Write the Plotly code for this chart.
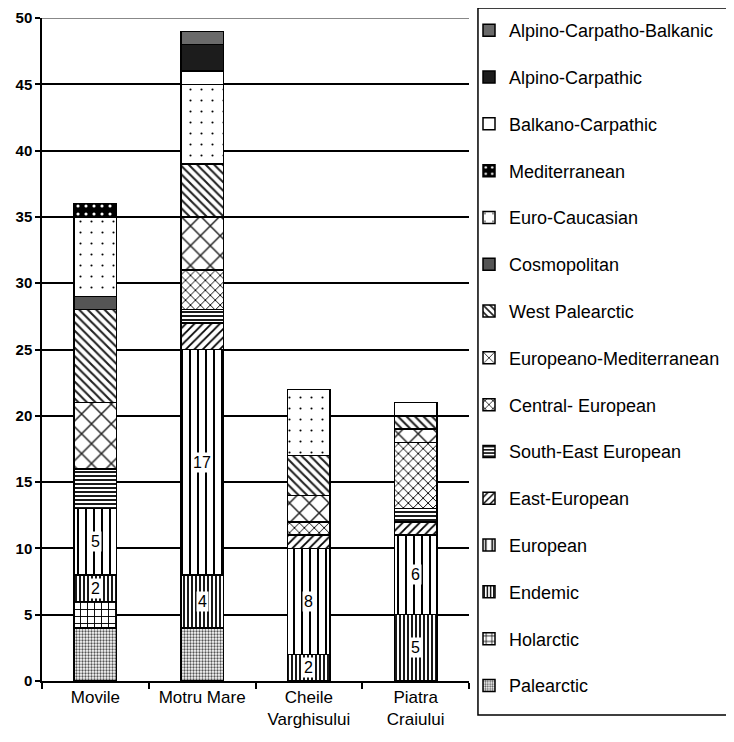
import plotly.graph_objects as go

sites = ["Movile", "Motru Mare", "Cheile<br>Varghisului", "Piatra<br>Craiului"]

palearctic = [4, 4, 0, 0]
holarctic = [2, 0, 0, 0]
endemic = [2, 4, 2, 5]
european = [5, 17, 8, 6]
east_european = [0, 2, 1, 1]
south_east_european = [3, 1, 0, 1]
central_european = [0, 3, 1, 5]
europeano_mediterranean = [5, 4, 2, 1]
west_palearctic = [7, 4, 3, 1]
cosmopolitan = [1, 0, 0, 0]
euro_caucasian = [6, 6, 5, 0]
mediterranean = [1, 0, 0, 0]
balkano_carpathic = [0, 1, 0, 1]
alpino_carpathic = [0, 2, 0, 0]
alpino_carpatho_balkanic = [0, 1, 0, 0]

labelled_series = ["Endemic", "European"]

series = [
    ("Palearctic", palearctic, dict(shape=".", fgcolor="#555", bgcolor="white", size=3, solidity=0.45)),
    ("Holarctic", holarctic, dict(shape="+", fgcolor="black", bgcolor="white", size=7, solidity=0.25)),
    ("Endemic", endemic, dict(shape="|", fgcolor="black", bgcolor="white", size=4, solidity=0.45)),
    ("European", european, dict(shape="|", fgcolor="black", bgcolor="white", size=8, solidity=0.25)),
    ("East-European", east_european, dict(shape="/", fgcolor="black", bgcolor="white", size=6, solidity=0.3)),
    ("South-East European", south_east_european, dict(shape="-", fgcolor="black", bgcolor="white", size=4, solidity=0.45)),
    ("Central- European", central_european, dict(shape="x", fgcolor="black", bgcolor="white", size=7, solidity=0.25)),
    ("Europeano-Mediterranean", europeano_mediterranean, dict(shape="x", fgcolor="#222", bgcolor="white", size=14, solidity=0.2)),
    ("West Palearctic", west_palearctic, dict(shape="\\", fgcolor="#222", bgcolor="white", size=6, solidity=0.35)),
    ("Cosmopolitan", cosmopolitan, dict(shape="", fgcolor="#555", bgcolor="#555", size=6, solidity=0.3)),
    ("Euro-Caucasian", euro_caucasian, dict(shape=".", fgcolor="black", bgcolor="white", size=11, solidity=0.03)),
    ("Mediterranean", mediterranean, dict(shape=".", fgcolor="white", bgcolor="black", size=8, solidity=0.12)),
    ("Balkano-Carpathic", balkano_carpathic, dict(shape="", fgcolor="white", bgcolor="white", size=6, solidity=0.3)),
    ("Alpino-Carpathic", alpino_carpathic, dict(shape="", fgcolor="#1c1c1c", bgcolor="#1c1c1c", size=6, solidity=0.3)),
    ("Alpino-Carpatho-Balkanic", alpino_carpatho_balkanic, dict(shape="", fgcolor="#6a6a6a", bgcolor="#6a6a6a", size=6, solidity=0.3)),
]

fig = go.Figure()
base = [0] * len(sites)
annotations = []
n = len(series)
for i, (name, vals, pat) in enumerate(series):
    fig.add_trace(go.Bar(
        name=name, x=sites, y=vals,
        legendgroup=name, legendrank=n - i,
        marker=dict(color=pat["bgcolor"], line=dict(color="black", width=1.5),
                    pattern=dict(shape=pat["shape"], fgcolor=pat["fgcolor"], bgcolor=pat["bgcolor"],
                                 size=pat["size"], solidity=pat["solidity"], fillmode="replace")),
        hoverinfo="skip",
    ))
    if name in labelled_series:
        for j, v in enumerate(vals):
            if v:
                annotations.append(dict(x=sites[j], y=base[j] + v / 2, text=str(v), showarrow=False,
                                        bgcolor="white", borderpad=1,
                                        font=dict(family="Liberation Sans, Arial", size=16, color="black")))
    base = [b + v for b, v in zip(base, vals)]

# top gridline drawn grey, and legend frame
fig.add_shape(type="line", xref="paper", yref="y", x0=0, x1=1, y0=50, y1=50,
              line=dict(color="#888", width=2), layer="above")
fig.add_shape(type="rect", xref="paper", yref="paper", x0=1.021, x1=1.66, y0=-0.0513, y1=1.015,
              line=dict(color="black", width=1.5), fillcolor="rgba(0,0,0,0)", layer="below")

fig.update_layout(
    barmode="stack",
    bargap=0.6,
    width=734, height=742,
    margin=dict(l=34, r=273, t=10, b=69, autoexpand=False),
    paper_bgcolor="white", plot_bgcolor="white",
    font=dict(family="Liberation Sans, Arial", color="black"),
    annotations=annotations,
    showlegend=True,
    legend=dict(
        traceorder="grouped", x=1.0, xanchor="left", y=1.009, yanchor="top",
        font=dict(size=18, family="Liberation Sans, Arial"),
        borderwidth=0, bgcolor="rgba(0,0,0,0)",
        tracegroupgap=20.4, itemwidth=30, maxheight=742,
    ),
    xaxis=dict(
        showline=True, linecolor="black", linewidth=1.5,
        ticks="outside", tickson="boundaries", ticklen=6, tickcolor="black", tickwidth=1.5,
        tickfont=dict(size=17), showgrid=False, fixedrange=True,
    ),
    yaxis=dict(
        range=[0, 50], dtick=5, showline=True, linecolor="black", linewidth=1.5,
        ticks="outside", ticklen=5, tickcolor="black", tickwidth=1.5,
        showgrid=True, gridcolor="black", gridwidth=1.5,
        tickfont=dict(size=15, family="Liberation Sans, Arial", weight="bold"),
        zeroline=False,
    ),
)

fig.write_html("out.html")
